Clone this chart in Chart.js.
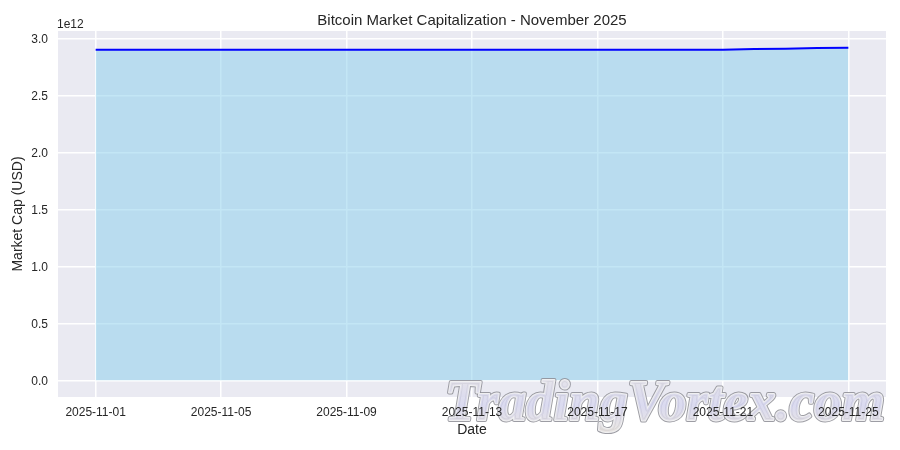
<!DOCTYPE html>
<html><head><meta charset="utf-8">
<script src="https://cdn.jsdelivr.net/npm/chart.js@4.4.0/dist/chart.umd.min.js"></script>
<style>html,body{margin:0;padding:0;background:#fff}</style>
</head><body>
<canvas id="c" width="900" height="450"></canvas>
<script>
const dates = ['2025-11-01','2025-11-02','2025-11-03','2025-11-04','2025-11-05','2025-11-06','2025-11-07','2025-11-08','2025-11-09','2025-11-10','2025-11-11','2025-11-12','2025-11-13','2025-11-14','2025-11-15','2025-11-16','2025-11-17','2025-11-18','2025-11-19','2025-11-20','2025-11-21','2025-11-22','2025-11-23','2025-11-24','2025-11-25'];
const marketCap = [2.900e12,2.900e12,2.900e12,2.900e12,2.900e12,2.900e12,2.900e12,2.900e12,2.900e12,2.900e12,2.900e12,2.900e12,2.900e12,2.900e12,2.900e12,2.900e12,2.900e12,2.900e12,2.900e12,2.900e12,2.900e12,2.905e12,2.909e12,2.914e12,2.918e12];
const xTickLabels = ['2025-11-01','2025-11-05','2025-11-09','2025-11-13','2025-11-17','2025-11-21','2025-11-25'];
const yTickValues = [0, 0.5e12, 1.0e12, 1.5e12, 2.0e12, 2.5e12, 3.0e12];
const titleText = 'Bitcoin Market Capitalization - November 2025';
const xLabel = 'Date';
const yLabel = 'Market Cap (USD)';
const offsetText = '1e12';
const watermark = 'TradingVortex.com';

const DAY = 86400000;
const t0 = Date.parse(dates[0]);
const dayIdx = d => (Date.parse(d) - t0) / DAY;
const points = dates.map((d, i) => ({x: dayIdx(d), y: marketCap[i]}));
const xSpan = dayIdx(dates[dates.length-1]);
const yMaxData = Math.max(...marketCap);
const FONT = '"Liberation Sans", Arial, sans-serif';

const bgPlugin = {
  id: 'bg',
  beforeDraw(chart) {
    const {ctx, chartArea: a} = chart;
    ctx.save();
    ctx.fillStyle = '#EAEAF2';
    ctx.fillRect(a.left, a.top, a.right - a.left, a.bottom - a.top);
    ctx.restore();
  }
};
const wmPlugin = {
  id: 'wm',
  afterDatasetsDraw(chart) {
    const ctx = chart.ctx;
    ctx.save();
    ctx.font = 'italic bold 56px "Liberation Serif", "DejaVu Serif", serif';
    ctx.textBaseline = 'alphabetic';
    ctx.textAlign = 'left';
    const w = ctx.measureText(watermark).width;
    ctx.translate(445, 420);
    ctx.scale(440 / w, 1);
    ctx.lineJoin = 'round';
    ctx.globalAlpha = 0.85;
    ctx.strokeStyle = '#8c8c94';
    ctx.lineWidth = 4;
    ctx.strokeText(watermark, 0, 0);
    ctx.strokeStyle = '#ffffff';
    ctx.lineWidth = 2;
    ctx.strokeText(watermark, 0, 0);
    const g = ctx.createLinearGradient(0, -40, 0, 10);
    g.addColorStop(0, '#e4e2ea');
    g.addColorStop(0.5, '#d4d4ee');
    g.addColorStop(1, '#e6e2e0');
    ctx.fillStyle = g;
    ctx.fillText(watermark, 0, 0);
    ctx.restore();
  }
};
const textPlugin = {
  id: 'texts',
  afterDraw(chart) {
    const {ctx, chartArea: a} = chart;
    const cx = (a.left + a.right) / 2;
    ctx.save();
    ctx.fillStyle = '#262626';
    ctx.textAlign = 'center'; ctx.textBaseline = 'middle';
    ctx.font = '15px ' + FONT;
    ctx.fillText(titleText, cx, 20.5);
    ctx.font = '14px ' + FONT;
    ctx.fillText(xLabel, cx, 430);
    ctx.save();
    ctx.translate(18, (a.top + a.bottom) / 2);
    ctx.rotate(-Math.PI / 2);
    ctx.fillText(yLabel, 0, 0);
    ctx.restore();
    ctx.font = '12px ' + FONT;
    ctx.textAlign = 'left';
    ctx.fillText(offsetText, 57, 24.5);
    ctx.restore();
  }
};

new Chart(document.getElementById('c'), {
  type: 'line',
  data: {
    datasets: [{
      data: points,
      borderColor: '#0000FF',
      borderWidth: 2,
      backgroundColor: 'rgba(135,206,235,0.5)',
      fill: 'origin',
      pointRadius: 0,
      tension: 0
    }]
  },
  options: {
    responsive: false,
    devicePixelRatio: 1,
    animation: false,
    layout: {padding: {top: 31, right: 14, left: 0, bottom: 0}},
    plugins: {legend: {display: false}, tooltip: {enabled: false}, title: {display: false}},
    scales: {
      x: {
        type: 'linear',
        min: -0.05 * xSpan,
        max: xSpan * 1.05,
        afterBuildTicks: s => { s.ticks = xTickLabels.map(l => ({value: dayIdx(l), label: l})); },
        afterFit: s => { s.height = 53; },
        ticks: {
          callback: (v) => { const i = xTickLabels.findIndex(l => dayIdx(l) === v); return i >= 0 ? xTickLabels[i] : ''; },
          color: '#262626', font: {family: FONT, size: 12}, padding: 8, maxRotation: 0, autoSkip: false, z: 1
        },
        grid: {color: '#ffffff', lineWidth: 1.5, drawTicks: false},
        border: {display: false}
      },
      y: {
        type: 'linear',
        min: -0.05 * yMaxData,
        max: yMaxData * 1.05,
        afterBuildTicks: s => { s.ticks = yTickValues.map(v => ({value: v})); },
        afterFit: s => { s.width = 58; },
        ticks: {
          callback: v => (v / 1e12).toFixed(1),
          color: '#262626', font: {family: FONT, size: 12}, padding: 10, labelOffset: 1
        },
        grid: {color: '#ffffff', lineWidth: 1.5, drawTicks: false},
        border: {display: false}
      }
    }
  },
  plugins: [bgPlugin, wmPlugin, textPlugin]
});
</script>
</body></html>
